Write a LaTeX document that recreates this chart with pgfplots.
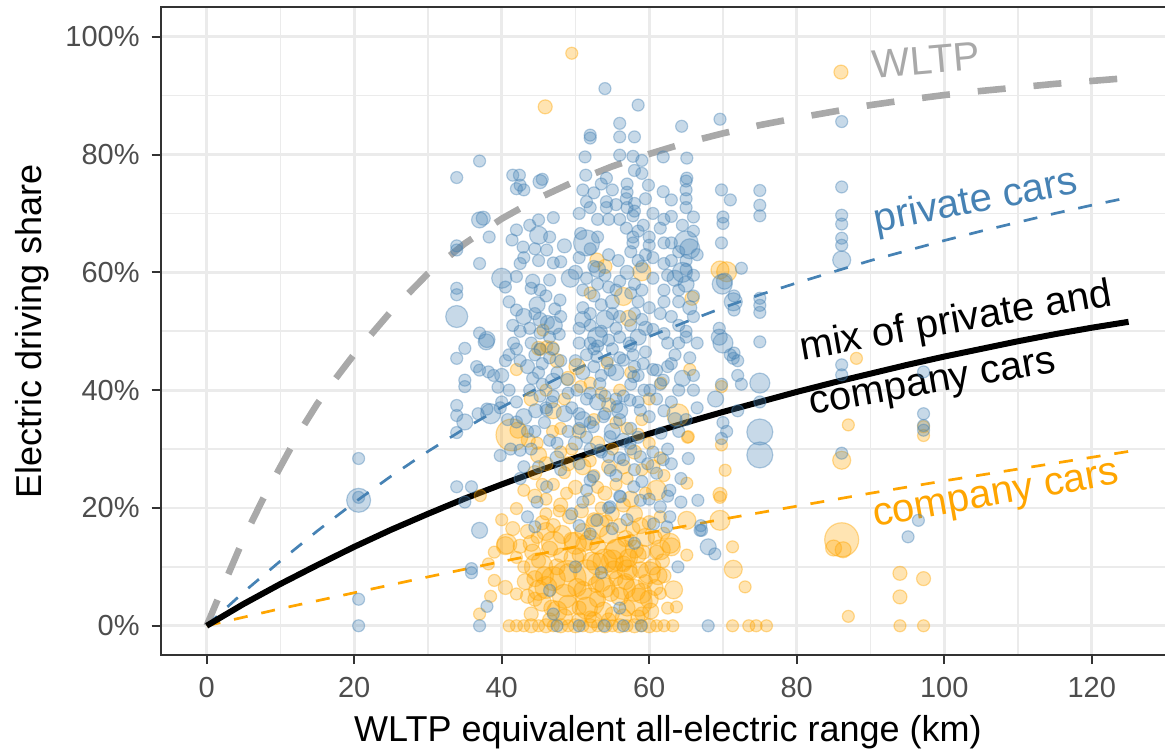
\documentclass[border=0pt]{standalone}
\usepackage{fontspec}
\setmainfont{Liberation Sans}
\usepackage{pgfplots}
\usepackage{pgfplotstable}
\pgfplotsset{compat=1.18}

\definecolor{steel}{HTML}{4682B4}
\definecolor{orng}{HTML}{FFA500}
\definecolor{wgray}{HTML}{A9A9A9}
\definecolor{gridc}{HTML}{EBEBEB}
\definecolor{axc}{HTML}{333333}
\definecolor{tickc}{HTML}{4D4D4D}

% x = range (km), y = share (%), r = bubble radius (px)
\pgfplotstableread{
x y r
20.6 28.4 6
20.6 21.3 12
20.6 21.8 6
20.6 4.5 6
20.6 0 6
33.9 76.1 6
37.0 78.9 6
33.9 64.5 6
33.9 63.8 6
37.0 68.9 8
37.5 69.2 7
38.3 66.0 6
37.0 61.5 6
33.9 57.3 6
33.9 56.2 6
33.9 52.5 11
37.0 49.7 6
37.9 48.2 8
35.0 47.1 6
33.9 45.4 6
37.0 43.4 6
38.2 43.1 6
35.0 41.7 6
35.0 40.6 6
33.9 37.4 6
33.9 35.7 6
35.0 34.6 8
33.9 32.8 6
33.9 23.6 6
35.9 23.6 6
35.0 21.0 6
35.9 9.7 6
35.9 9.0 6
38.0 3.3 6
37.0 0 6
37.0 16.2 8
41.5 76.5 6
42.4 76.5 6
42.0 74.2 6
43.0 74.0 6
42.5 74.8 6
45.2 75.4 7
45.5 75.8 6
42.0 67.2 6
43.8 68.0 6
45.0 68.9 6
47.0 69.3 6
45.0 66.3 9
41.4 65.5 6
42.9 64.3 6
46.1 63.8 6
42.5 61.5 6
45.0 62.0 6
47.0 61.6 6
48.0 61.8 6
40.0 59.0 10
42.0 59.3 6
44.0 57.3 6
45.2 57.0 6
46.5 58.7 6
49.3 59.0 9
47.9 55.3 6
42.0 53.6 6
43.0 52.5 8
44.5 53.0 6
45.2 52.0 7
41.5 51.0 6
42.5 50.0 6
47.0 51.0 9
48.0 52.5 6
46.5 49.0 6
44.0 48.0 6
40.5 57.5 6
41.0 55.0 6
54.0 91.2 6
52.0 83.3 6
52.0 82.8 6
51.3 79.6 6
51.4 76.5 6
54.2 76.0 6
51.0 74.0 6
51.5 72.0 6
52.0 71.0 6
54.2 72.0 6
54.2 71.0 6
53.0 69.0 6
54.5 69.0 6
56.0 69.0 6
56.0 85.3 6
56.0 83.0 6
56.0 79.9 6
57.0 75.0 6
57.0 73.6 6
56.9 72.5 6
56.9 67.5 6
50.7 66.6 6
51.5 65.0 13
52.0 64.0 6
53.0 66.0 6
54.5 63.0 6
55.8 62.0 6
52.5 61.0 6
50.5 62.5 6
53.0 58.0 6
54.5 57.5 6
55.5 57.0 6
52.5 56.0 6
51.0 54.0 6
53.5 54.5 6
55.0 53.0 6
52.0 51.0 6
53.5 50.0 6
54.5 48.5 6
51.0 52.0 8
55.5 50.5 6
50.5 48.0 6
52.5 47.0 6
58.5 88.4 6
57.8 79.7 6
58.0 77.3 6
59.0 76.8 6
59.9 74.8 6
58.0 71.7 6
58.0 70.4 6
57.8 69.6 6
57.8 66.0 6
57.8 65.0 6
59.2 68.0 6
60.0 66.0 6
60.0 64.6 6
58.5 62.0 6
59.0 61.0 6
58.0 58.0 6
59.0 57.0 6
58.5 55.0 6
58.0 53.0 6
59.0 52.0 6
60.5 50.3 6
58.5 49.0 8
57.5 47.5 6
59.5 46.5 6
64.4 84.8 6
61.9 79.6 6
65.1 79.4 6
65.1 76.0 6
61.9 73.7 6
63.0 72.3 6
65.0 75.5 6
65.0 74.0 6
65.0 72.5 6
65.0 71.0 6
62.0 69.0 6
63.0 69.5 6
66.0 69.4 6
62.0 65.0 6
63.0 65.0 6
65.0 65.0 12
65.5 64.0 10
65.0 62.0 6
65.0 60.5 6
62.0 61.5 6
63.0 62.0 6
62.0 57.0 6
64.0 57.0 6
64.0 55.0 6
62.0 55.0 6
65.0 58.0 8
62.0 49.6 6
65.0 50.0 6
65.0 49.0 6
62.5 48.0 6
64.0 48.0 6
66.0 52.5 6
63.5 46.0 6
69.6 86.0 6
69.8 74.0 6
71.0 72.3 6
70.0 69.4 6
70.0 68.3 6
69.8 65.0 6
69.9 58.0 10
70.2 58.5 8
71.5 56.0 6
71.5 53.6 6
69.5 50.5 6
69.5 49.0 8
70.0 48.0 10
71.5 46.3 6
72.0 45.0 6
38.0 48.6 8
45.2 49.7 6
45.2 47.0 6
45.5 44.5 6
45.0 43.0 6
45.5 41.0 6
45.2 39.0 6
46.0 37.0 6
46.1 36.6 6
42.0 47.0 6
42.5 45.0 6
41.6 48.0 6
47.0 47.0 6
48.0 45.0 6
47.5 43.0 6
48.9 41.8 6
52.0 48.0 6
51.5 46.0 6
53.0 47.5 6
54.3 45.0 6
52.5 44.0 6
56.0 49.0 6
57.3 48.0 6
57.8 46.0 6
58.0 44.0 6
58.5 42.5 6
57.5 41.0 6
59.3 40.0 6
56.5 39.0 6
58.5 38.0 6
50.2 40.0 6
51.5 38.5 6
50.5 36.0 6
52.0 34.5 6
51.5 32.0 6
52.0 30.0 6
53.5 29.5 6
54.5 28.7 6
53.0 38.0 8
54.0 36.0 6
55.0 33.0 8
56.0 35.0 6
57.5 33.5 6
58.5 32.0 6
57.5 30.0 6
56.0 28.5 6
58.0 26.5 6
59.8 27.5 6
60.5 29.5 6
52.0 24.7 6
51.5 23.0 6
51.0 21.0 6
49.5 19.0 6
50.5 17.0 6
52.0 15.6 6
46.1 23.6 6
44.8 21.0 6
43.5 18.5 6
44.5 16.8 6
42.5 25.0 6
43.0 27.0 6
44.0 30.0 6
44.5 33.0 6
43.0 35.5 8
42.0 38.0 6
41.0 40.0 6
40.0 38.0 6
39.8 37.0 6
38.5 36.0 10
38.0 36.8 6
36.8 36.0 6
38.9 42.5 6
36.6 44.0 6
42.0 34.6 6
42.5 29.8 6
39.8 28.9 6
61.6 32.7 6
62.5 30.0 6
63.0 27.5 6
64.3 25.0 6
62.5 22.0 6
61.5 20.2 6
64.3 21.0 6
66.6 21.3 6
67.0 17.0 6
68.9 12.2 6
71.0 46.0 6
72.0 42.5 6
69.8 41.0 6
69.0 38.5 8
72.0 36.5 6
70.0 34.5 6
70.5 33.0 6
72.5 41.0 6
66.0 40.0 6
66.5 37.0 6
65.0 35.0 6
64.0 33.0 6
63.0 38.0 6
64.5 42.0 8
60.5 43.5 6
61.5 41.0 6
62.5 44.0 6
60.0 35.5 6
59.0 24.5 6
60.0 21.5 6
55.5 25.5 6
54.5 20.0 6
55.0 16.5 6
57.0 18.0 6
56.0 22.0 6
48.0 26.5 6
47.5 31.0 6
49.0 33.0 6
48.5 36.0 8
47.0 39.0 6
86.1 85.6 6
86.1 74.5 6
86.1 69.7 6
86.1 68.2 6
86.1 65.8 6
86.1 64.6 6
86.1 62.1 9
75.0 73.9 6
75.0 71.4 6
75.0 69.6 6
72.5 60.7 6
75.0 55.6 6
75.0 53.2 6
71.4 55.0 9
75.0 48.2 6
71.4 45.4 6
75.0 41.2 10
75.0 38.0 6
75.0 32.9 13
75.0 29.0 13
69.8 31.8 6
65.3 28.4 6
86.1 44.3 6
86.1 42.6 6
97.2 43.1 6
97.2 36.0 6
97.2 34.0 6
97.2 33.2 6
86.1 29.3 6
96.5 17.9 6
95.1 15.1 6
68.0 13.4 8
67.1 16.2 6
63.9 10.0 6
68.0 0 6
75.0 54.4 6
46.5 6.0 6
50.0 10.0 6
47.0 2.0 6
53.5 9.0 6
58.0 14.0 6
56.0 3.0 6
47.5 0 6
50.5 0 6
53.9 0 6
56.5 0 6
58.9 0 6
44.2 58.5 7
46.0 56.0 6
44.8 54.5 8
47.2 53.8 6
43.8 50.5 6
46.2 51.5 7
44.5 46.0 6
47.8 49.5 6
43.5 44.0 7
46.5 45.5 6
44.2 42.0 6
47.0 41.5 8
43.8 40.0 6
46.8 38.0 6
44.6 36.5 7
45.8 34.5 6
43.5 33.0 6
46.5 31.5 6
45.0 27.0 6
47.5 28.5 7
40.5 45.0 6
40.0 42.5 7
41.0 46.0 6
39.5 40.5 6
40.8 35.0 6
41.2 30.0 6
43.0 62.5 6
44.5 64.0 6
46.5 66.0 6
48.5 64.5 7
50.5 70.0 6
52.5 73.5 6
53.5 75.0 6
55.0 74.0 6
55.5 71.5 6
50.0 60.0 7
51.5 59.0 6
53.0 60.5 8
54.0 59.5 6
56.0 58.5 6
51.0 57.0 6
55.0 55.0 7
52.0 53.0 6
54.0 52.0 9
56.0 52.5 6
50.5 50.5 6
53.0 49.0 10
55.0 47.0 6
56.0 45.5 6
50.0 45.0 6
51.0 43.0 7
53.5 42.5 6
55.5 43.0 8
52.9 45.7 6
54.7 43.4 6
53.3 41.1 6
56.5 45.1 6
55.6 37.2 6
53.8 35.5 6
52.4 33.8 6
54.7 32.1 6
53.3 29.8 6
56.5 28.2 6
54.7 26.4 6
52.4 25.3 6
50.5 27.5 6
50.0 31.0 7
49.5 37.0 6
49.0 39.5 6
50.5 33.5 6
56.5 31.5 7
55.5 38.5 6
56.0 36.5 8
54.0 39.0 6
52.0 39.5 6
51.0 35.0 8
57.9 42.3 6
59.2 44.5 6
60.1 40.0 6
57.4 38.3 6
58.8 36.6 6
57.4 31.0 6
58.8 28.7 6
57.9 23.6 6
56.1 21.9 6
54.7 20.2 6
58.8 21.3 6
52.9 17.9 6
60.6 17.3 6
59.5 50.5 7
57.5 51.0 6
60.0 54.0 6
57.5 56.5 6
60.5 59.0 6
57.0 60.0 7
59.5 63.0 6
57.5 63.5 6
60.5 62.5 6
58.5 67.0 6
57.0 71.0 6
59.5 72.5 6
60.5 70.0 6
59.0 79.0 6
58.0 83.0 6
61.0 43.4 6
61.9 41.7 6
61.0 25.9 6
61.9 28.2 6
62.8 23.0 6
62.4 16.8 6
62.8 18.5 6
66.9 16.2 6
63.5 59.0 8
64.5 60.0 10
66.0 59.5 6
63.0 52.5 6
65.5 54.0 7
61.5 53.0 6
64.0 51.0 6
66.5 48.0 6
63.0 44.5 6
65.5 45.5 6
64.0 40.0 6
66.0 42.5 6
62.0 36.5 6
63.5 35.0 7
61.0 38.5 6
66.0 67.0 6
64.5 68.0 6
61.5 67.5 6
66.5 63.0 6
64.0 63.5 6
66.0 56.0 6
62.5 59.5 6
}\bluepts

\pgfplotstableread{
x y r
41.0 0 6
42.0 0 6
43.0 0 6
44.0 0 7
45.0 0 6
46.0 0 7
47.0 0 6
48.0 0 7
49.0 0 6
50.0 0 7
51.0 0 6
52.0 0 7
53.0 0 6
54.0 0 7
55.0 0 6
56.0 0 7
57.0 0 6
58.0 0 7
59.0 0 6
60.0 0 7
61.0 0 6
62.0 0 6
63.2 0 6
71.3 0 6
73.5 0 6
74.5 0 6
75.9 0 6
94.0 0 6
97.2 0 6
49.0 8.0 18
56.0 12.0 16
52.0 4.0 14
45.0 10.0 14
58.5 4.0 14
47.0 14.0 12
53.0 17.0 12
44.0 2.0 7
45.5 4.0 9
46.0 6.5 11
44.5 8.0 8
45.0 11.0 7
46.5 13.0 8
44.8 15.0 6
47.0 17.0 7
46.0 19.0 6
48.0 20.5 7
47.5 2.5 10
48.5 5.0 12
49.0 9.0 9
48.0 12.0 7
49.5 14.5 8
50.5 3.0 7
51.0 6.0 9
51.5 9.0 13
50.5 12.0 7
51.0 16.0 8
52.5 18.0 7
52.0 1.5 6
53.0 4.5 8
53.5 7.5 10
54.0 11.0 12
53.0 13.5 8
54.5 15.5 9
53.5 20.0 6
55.0 2.0 7
56.0 5.0 9
55.5 8.0 7
56.5 10.5 8
55.5 13.0 10
56.0 17.0 7
57.0 3.0 8
58.0 6.0 11
57.5 9.0 7
58.5 12.0 8
57.5 14.5 6
58.0 19.0 8
59.0 2.0 7
60.0 4.5 9
59.5 7.5 7
60.5 10.0 8
61.0 12.5 7
59.5 15.0 9
60.0 17.5 7
61.5 5.5 6
62.0 8.5 7
62.5 3.0 6
43.5 5.0 7
43.0 10.0 6
42.5 13.5 7
40.5 13.6 9
40.7 13.9 10
42.0 11.6 6
39.0 7.7 6
40.5 6.5 7
42.0 5.4 6
37.0 2.0 6
38.2 10.5 6
37.1 22.1 6
42.0 19.9 6
44.5 22.0 7
47.0 24.0 6
46.0 27.5 7
45.0 29.0 8
44.8 31.0 6
48.5 26.0 6
50.0 23.5 7
51.0 27.0 8
49.5 30.0 6
52.5 25.5 6
54.0 22.5 7
55.5 24.0 6
56.5 27.0 7
57.5 21.5 8
59.5 22.5 6
61.0 23.0 10
62.0 25.5 6
53.0 31.0 7
57.0 33.5 6
55.0 30.0 6
58.0 29.5 7
60.0 31.0 6
48.0 33.5 6
50.2 44.0 8
54.3 44.6 6
52.0 41.2 6
50.7 40.6 6
42.0 43.5 6
45.2 46.9 6
46.1 47.4 6
41.4 32.4 16
42.2 33.2 8
43.6 31.5 7
46.9 33.0 6
61.6 41.2 6
63.9 35.8 11
65.2 32.0 6
65.5 43.5 6
63.0 13.4 9
65.1 12.0 6
62.8 14.0 10
61.5 12.9 10
63.3 6.1 9
63.7 3.2 6
65.1 17.9 9
65.1 24.2 6
62.0 15.7 6
69.6 22.3 7
69.6 21.8 6
69.6 17.9 10
70.3 26.4 6
69.8 30.7 6
69.8 40.6 6
65.3 32.1 6
71.3 13.4 6
71.4 9.6 9
73.0 6.6 6
86.1 14.6 17
85.0 13.2 8
86.3 12.9 8
94.0 8.9 7
97.2 8.0 7
94.0 4.9 7
87.0 1.6 6
88.1 45.4 6
87.0 34.1 6
97.2 33.8 6
97.2 32.3 6
86.1 28.1 9
86.0 94.0 7
49.5 97.2 6
45.9 88.1 7
70.5 60.1 10
69.6 60.4 9
52.9 62.1 7
54.0 61.0 7
59.0 60.1 9
56.5 55.9 9
65.8 55.6 7
57.2 52.2 8
52.0 56.5 6
45.6 50.2 6
45.0 47.1 7
46.8 47.1 7
52.5 35.0 6
54.5 37.5 7
56.0 40.0 6
47.0 36.5 8
48.5 38.5 6
44.0 38.5 7
59.0 35.0 6
60.5 27.0 7
43.5 16.0 7
44.2 12.5 8
45.8 8.5 9
46.8 3.0 8
47.5 10.0 8
48.2 15.5 9
49.2 18.5 7
49.8 11.5 10
50.2 6.5 9
51.2 14.0 8
52.2 11.0 9
52.8 7.0 8
53.8 2.5 9
54.8 5.5 8
55.2 9.5 9
56.8 7.5 8
57.2 11.5 9
57.8 16.5 7
58.8 9.5 8
59.2 12.5 7
60.2 2.5 8
60.8 6.5 8
61.2 8.5 9
61.8 11.0 7
58.5 1.5 7
56.5 1.5 8
54.5 1.0 7
52.5 1.0 8
50.5 1.0 7
48.5 1.5 8
46.5 1.0 7
44.5 4.5 7
43.2 7.5 8
45.5 17.5 7
47.8 19.5 6
50.8 19.5 7
55.0 19.0 7
56.8 14.8 8
54.2 17.8 6
51.8 21.5 6
48.8 22.5 6
46.0 21.5 6
53.0 23.5 6
56.5 20.5 7
58.8 17.0 8
60.8 15.0 7
61.5 18.5 6
49.0 3.5 10
51.5 3.0 11
54.0 6.5 10
56.5 6.5 12
59.0 5.5 10
45.0 6.0 10
47.0 8.0 12
55.0 11.0 11
50.0 14.0 11
57.0 9.5 10
53.0 10.5 11
60.0 9.0 11
46.0 16.0 9
52.0 14.5 10
58.0 13.0 9
44.0 14.0 8
45.5 24.0 6
49.0 27.5 7
52.0 28.0 6
54.5 27.0 7
57.0 25.0 6
59.0 26.5 6
61.5 28.5 6
48.0 29.5 6
50.5 33.0 7
55.5 34.5 6
58.5 32.5 6
46.0 40.0 6
49.0 42.0 7
53.5 39.5 6
57.5 43.0 6
60.0 38.5 6
47.5 45.0 7
44.5 26.0 7
43.0 23.0 6
40.0 18.0 6
41.5 16.5 7
39.0 12.5 6
38.5 5.0 6
}\orangepts

% per-point radius: r is in px, the page is drawn at 2 px per pt
\pgfplotsset{
  bubbles/.style={scatter, only marks, mark=*, point meta=\thisrow{r},
    visualization depends on={0.5*\thisrow{r} \as \rad},
    scatter/@pre marker code/.code={%
      \scope[draw=#1, fill=#1, draw opacity=0.4, fill opacity=0.3, line width=0.6pt]%
      \pgfsetplotmarksize{\rad pt}},
    scatter/@post marker code/.code={\endscope}},
}

\begin{document}
\begin{tikzpicture}
\path[use as bounding box] (0,0) rectangle (582.5pt,376pt);
\begin{axis}[
  at={(80.3pt,48.4pt)}, anchor=south west,
  scale only axis, width=507.03pt, height=323.95pt,
  xmin=-6.25, xmax=131.25, ymin=-5, ymax=105,
  xtick={0,20,40,60,80,100,120},
  ytick={0,20,40,60,80,100},
  yticklabels={0\%,20\%,40\%,60\%,80\%,100\%},
  minor xtick={10,30,50,70,90,110,130},
  minor ytick={10,30,50,70,90},
  grid=both,
  major grid style={draw=gridc, line width=1.4pt},
  minor grid style={draw=gridc, line width=0.8pt},
  axis line style={draw=axc, line width=1pt},
  tick align=outside,
  major tick length=4.5pt, minor tick length=0pt,
  major tick style={draw=axc, line width=1pt},
  xtick pos=bottom, ytick pos=left,
  /pgf/number format/assume math mode=true,
  ticklabel style={font=\fontsize{14.5}{16}\selectfont, text=tickc, inner sep=0pt},
  xticklabel style={yshift=-6.2pt},
  yticklabel style={xshift=-5.8pt},
  clip=true,
]
\addplot[bubbles=orng] table {\orangepts};
\addplot[bubbles=steel] table {\bluepts};

% WLTP utility factor
\addplot[wgray, line width=3.3pt, dash pattern=on 14pt off 14pt] coordinates {
(0,0) (2.5,7.5) (5,14.8) (7.5,21.2) (10,27) (12.5,32.7) (15,37.7) (17.5,42)
(20,46.1) (25,53.4) (30,59.8) (35,64.9) (40,69.1) (45,72.6) (50,75.5) (55,78)
(60,80.1) (65,82) (70,83.6) (75,85) (80,86.2) (85,87.3) (90,88.4) (95,89.3)
(100,90.1) (105,90.8) (110,91.4) (115,92) (120,92.5) (125,93)};

% private cars
\addplot[steel, line width=1.35pt, dash pattern=on 7pt off 7pt] coordinates {
(0,0) (5,5.7) (10,11) (15,16.1) (20,20.9) (25,25.4) (30,29.6) (35,33.5)
(40,37.1) (45,40.4) (50,43.5) (55,46.4) (60,49.1) (65,51.6) (70,54) (75,56.2)
(80,58.2) (85,60.1) (90,62) (95,63.7) (100,65.4) (105,67) (110,68.5) (115,70)
(120,71.4) (125,72.7)};

% company cars
\addplot[orng, line width=1.35pt, dash pattern=on 7pt off 7pt] coordinates {
(0,0) (10,2.9) (20,5.6) (30,8.3) (40,10.9) (50,13.4) (60,15.8) (70,18.1)
(80,20.3) (90,22.5) (100,24.6) (110,26.6) (120,28.6) (125,29.6)};

% mix
\addplot[black, line width=3pt] coordinates {
(0,0) (5,3.7) (10,7.1) (15,10.3) (20,13.4) (25,16.3) (30,19) (35,21.6)
(40,24) (45,26.3) (50,28.5) (55,30.6) (60,32.6) (65,34.5) (70,36.3) (75,38)
(80,39.7) (85,41.3) (90,42.8) (95,44.3) (100,45.7) (105,47) (110,48.3)
(115,49.5) (120,50.6) (125,51.6)};

\node[anchor=base west, rotate=5, text=wgray, font=\fontsize{20}{24}\selectfont, inner sep=0pt]
  at (axis cs:90.4,92.9) {WLTP};
\node[anchor=base west, rotate=11, text=steel, font=\fontsize{20}{24}\selectfont, inner sep=0pt]
  at (axis cs:90.75,66.8) {private cars};
\node[anchor=base west, rotate=10, text=black, font=\fontsize{20}{24}\selectfont, inner sep=0pt]
  at (axis cs:80.7,45.1) {mix of private and};
\node[anchor=base west, rotate=10, text=black, font=\fontsize{20}{24}\selectfont, inner sep=0pt]
  at (axis cs:82.0,35.8) {company cars};
\node[anchor=base west, rotate=10, text=orng, font=\fontsize{20}{24}\selectfont, inner sep=0pt]
  at (axis cs:90.6,16.8) {company cars};
\end{axis}
\node[anchor=base, font=\fontsize{18}{22}\selectfont, inner sep=0pt] at (334pt,5.2pt)
  {WLTP equivalent all-electric range (km)};
\node[anchor=base, rotate=90, font=\fontsize{18}{22}\selectfont, inner sep=0pt] at (20.85pt,210.5pt)
  {Electric driving share};
\end{tikzpicture}
\end{document}
